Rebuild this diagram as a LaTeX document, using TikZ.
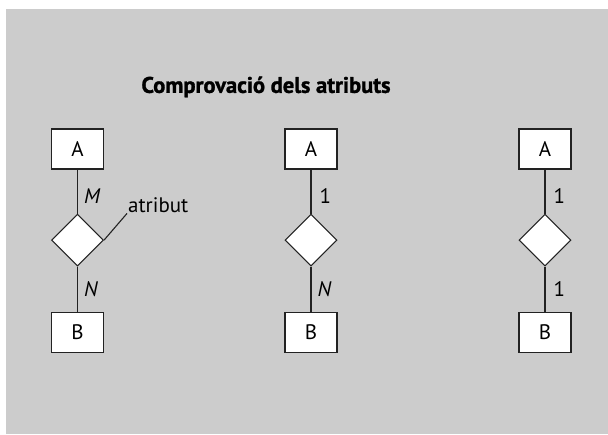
\documentclass[tikz,border=0pt]{standalone}
\usepackage{fontspec}
\setmainfont{PT Sans}
\newfontfamily\headfont[FakeBold=1.3]{PT Sans Bold}
\usetikzlibrary{positioning,shapes.geometric}

\definecolor{panelgray}{HTML}{CCCCCC}
\definecolor{inkgray}{HTML}{222222}

\tikzset{
  entity/.style={draw=inkgray, fill=white, line width=1.1pt, minimum width=52pt, minimum height=40pt, inner sep=0pt, font=\fontsize{21}{24}\selectfont},
  relation/.style={diamond, draw=inkgray, fill=white, line width=1.1pt, minimum width=52pt, minimum height=52pt, inner sep=0pt},
  card/.style={font=\fontsize{21}{24}\selectfont, inner sep=0pt},
  link/.style={draw=inkgray, line width=1.1pt}
}

\begin{document}
\begin{tikzpicture}[x=1pt,y=1pt]
\useasboundingbox (0,0) rectangle (608,434);
\fill[panelgray] (6,0) rectangle (608,425);

\node[font=\fontsize{22.5}{26}\headfont] (title) at (266,347) {Comprovació dels atributs};

% M:N with an attribute
\node[entity] (a1) at (77.5,285) {A};
\node[relation, below=44pt of a1] (r1) {};
\node[entity, below=45pt of r1] (b1) {B};
\node[card, anchor=base west] (atr) at (128,221) {atribut};
\draw[link] (a1) -- node[card, right=6pt, pos=0.6] {\itshape M} (r1);
\draw[link] (r1) -- node[card, right=6pt] {\itshape N} (b1);
\draw[link] (r1.east) -- ([xshift=-1pt]atr.south west);

% 1:N
\node[entity] (a2) at (311,285) {A};
\node[relation, below=44pt of a2] (r2) {};
\node[entity, below=45pt of r2] (b2) {B};
\draw[link] (a2) -- node[card, right=8pt, pos=0.6] {1} (r2);
\draw[link] (r2) -- node[card, right=6pt] {\itshape N} (b2);

% 1:1
\node[entity] (a3) at (545,285) {A};
\node[relation, below=44pt of a3] (r3) {};
\node[entity, below=45pt of r3] (b3) {B};
\draw[link] (a3) -- node[card, right=8pt, pos=0.6] {1} (r3);
\draw[link] (r3) -- node[card, right=8pt] {1} (b3);
\end{tikzpicture}
\end{document}
